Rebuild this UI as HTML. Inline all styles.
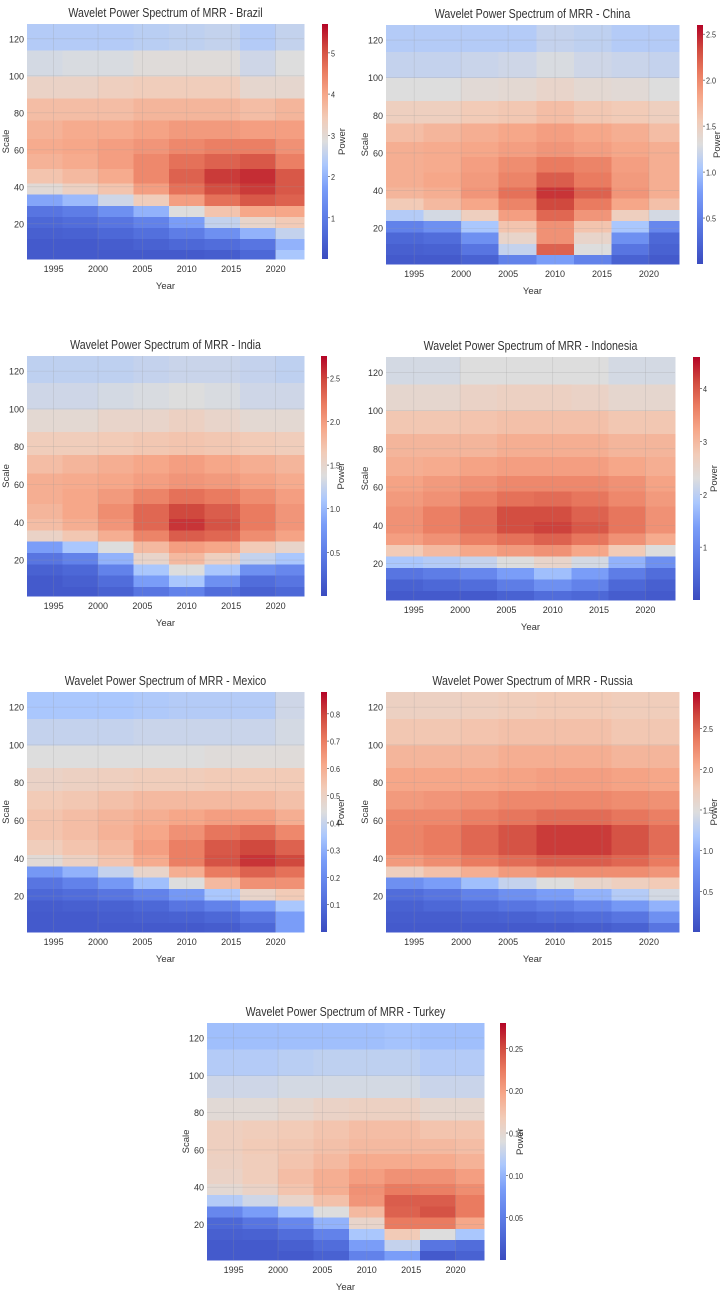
<!DOCTYPE html>
<html><head><meta charset="utf-8">
<style>
body{margin:0;background:#fff;}
svg{display:block;font-family:"Liberation Sans",sans-serif;}
</style></head>
<body>
<svg id="chart" width="726" height="1294" viewBox="0 0 726 1294"></svg>
<script>
// Shared axis data
const yearTicks = [1995, 2000, 2005, 2010, 2015, 2020];
const scaleTicks = [20, 40, 60, 80, 100, 120];
const yearEdges = [1992, 1996, 2000, 2004, 2008, 2012, 2016, 2020, 2023.2];
const scaleEdges = [1, 6, 12, 18, 24, 30, 36, 42, 50, 58, 66, 76, 88, 100, 114, 128];

// Power grids (fraction of colorbar max), rows bottom (scale 1) -> top (scale 128)
const brazilPower = [
[0.05,0.05,0.05,0.05,0.05,0.06,0.1,0.4],
[0.05,0.05,0.06,0.08,0.1,0.12,0.15,0.35],
[0.07,0.08,0.1,0.13,0.18,0.25,0.35,0.45],
[0.1,0.12,0.15,0.2,0.3,0.45,0.55,0.6],
[0.15,0.18,0.25,0.35,0.5,0.62,0.7,0.7],
[0.32,0.37,0.47,0.59,0.72,0.82,0.87,0.85],
[0.52,0.57,0.62,0.72,0.82,0.89,0.92,0.87],
[0.62,0.65,0.69,0.77,0.85,0.92,0.94,0.87],
[0.67,0.69,0.72,0.77,0.82,0.85,0.87,0.79],
[0.69,0.7,0.72,0.74,0.77,0.79,0.79,0.75],
[0.67,0.69,0.69,0.71,0.73,0.73,0.72,0.72],
[0.64,0.64,0.64,0.66,0.66,0.66,0.64,0.66],
[0.56,0.56,0.58,0.59,0.59,0.59,0.54,0.54],
[0.48,0.49,0.49,0.51,0.51,0.51,0.47,0.5],
[0.42,0.42,0.42,0.43,0.44,0.45,0.42,0.45]];
const chinaPower = [
[0.05,0.05,0.08,0.2,0.3,0.2,0.08,0.05],
[0.07,0.08,0.15,0.45,0.85,0.5,0.15,0.08],
[0.1,0.12,0.25,0.55,0.75,0.55,0.25,0.1],
[0.2,0.25,0.4,0.62,0.75,0.62,0.4,0.22],
[0.42,0.48,0.58,0.72,0.84,0.74,0.58,0.48],
[0.6,0.65,0.7,0.78,0.9,0.8,0.7,0.63],
[0.66,0.68,0.74,0.82,0.93,0.85,0.74,0.68],
[0.68,0.7,0.73,0.78,0.86,0.8,0.73,0.68],
[0.68,0.69,0.72,0.76,0.8,0.78,0.72,0.68],
[0.68,0.69,0.7,0.72,0.74,0.72,0.7,0.68],
[0.64,0.66,0.68,0.7,0.72,0.7,0.68,0.64],
[0.58,0.58,0.6,0.61,0.64,0.61,0.6,0.58],
[0.5,0.5,0.52,0.53,0.55,0.53,0.52,0.5],
[0.45,0.45,0.46,0.47,0.49,0.47,0.46,0.45],
[0.42,0.42,0.42,0.42,0.45,0.44,0.42,0.42]];
const indiaPower = [
[0.05,0.05,0.08,0.15,0.2,0.12,0.08,0.1],
[0.05,0.07,0.12,0.3,0.4,0.25,0.12,0.15],
[0.08,0.1,0.2,0.4,0.5,0.4,0.25,0.22],
[0.15,0.2,0.35,0.55,0.65,0.58,0.45,0.4],
[0.3,0.4,0.5,0.65,0.72,0.7,0.6,0.55],
[0.56,0.61,0.68,0.78,0.86,0.84,0.76,0.71],
[0.64,0.68,0.74,0.84,0.93,0.88,0.8,0.74],
[0.66,0.7,0.76,0.84,0.9,0.86,0.8,0.74],
[0.68,0.7,0.73,0.78,0.82,0.8,0.76,0.72],
[0.68,0.69,0.7,0.72,0.74,0.73,0.71,0.69],
[0.64,0.66,0.68,0.7,0.72,0.7,0.68,0.66],
[0.59,0.59,0.6,0.61,0.62,0.61,0.6,0.59],
[0.53,0.53,0.55,0.55,0.57,0.55,0.53,0.53],
[0.47,0.47,0.48,0.49,0.5,0.49,0.47,0.47],
[0.44,0.44,0.44,0.45,0.46,0.46,0.45,0.44]];
const indonesiaPower = [
[0.05,0.05,0.05,0.08,0.12,0.1,0.06,0.05],
[0.08,0.1,0.12,0.18,0.25,0.2,0.1,0.07],
[0.15,0.18,0.22,0.3,0.38,0.3,0.18,0.12],
[0.4,0.42,0.45,0.5,0.55,0.48,0.35,0.25],
[0.6,0.65,0.7,0.73,0.75,0.7,0.6,0.5],
[0.72,0.75,0.79,0.82,0.85,0.81,0.75,0.69],
[0.75,0.79,0.83,0.89,0.91,0.87,0.81,0.75],
[0.75,0.79,0.83,0.89,0.89,0.85,0.81,0.75],
[0.73,0.75,0.79,0.82,0.83,0.81,0.77,0.73],
[0.71,0.73,0.75,0.77,0.77,0.77,0.75,0.71],
[0.68,0.69,0.71,0.72,0.72,0.72,0.7,0.68],
[0.66,0.66,0.66,0.68,0.68,0.68,0.66,0.66],
[0.61,0.61,0.62,0.63,0.63,0.63,0.61,0.61],
[0.54,0.54,0.56,0.57,0.57,0.56,0.54,0.54],
[0.48,0.48,0.5,0.5,0.5,0.5,0.48,0.48]];
const mexicoPower = [
[0.05,0.05,0.05,0.05,0.05,0.06,0.1,0.3],
[0.05,0.05,0.06,0.07,0.08,0.1,0.15,0.3],
[0.06,0.07,0.08,0.1,0.15,0.2,0.3,0.4],
[0.1,0.12,0.15,0.2,0.28,0.4,0.55,0.6],
[0.15,0.2,0.28,0.38,0.5,0.65,0.75,0.75],
[0.28,0.35,0.45,0.55,0.68,0.8,0.85,0.82],
[0.52,0.57,0.62,0.69,0.79,0.88,0.93,0.9],
[0.59,0.62,0.65,0.72,0.79,0.87,0.9,0.85],
[0.62,0.64,0.67,0.7,0.75,0.81,0.83,0.77],
[0.62,0.64,0.66,0.68,0.7,0.72,0.72,0.68],
[0.6,0.61,0.63,0.65,0.65,0.65,0.65,0.63],
[0.56,0.57,0.58,0.59,0.59,0.6,0.6,0.6],
[0.5,0.5,0.5,0.5,0.5,0.51,0.51,0.51],
[0.45,0.45,0.45,0.46,0.46,0.46,0.46,0.48],
[0.4,0.4,0.4,0.41,0.42,0.42,0.42,0.47]];
const russiaPower = [
[0.05,0.05,0.05,0.05,0.05,0.06,0.08,0.15],
[0.06,0.06,0.07,0.08,0.1,0.12,0.15,0.25],
[0.08,0.1,0.12,0.15,0.18,0.22,0.28,0.35],
[0.12,0.15,0.2,0.25,0.3,0.35,0.42,0.48],
[0.25,0.3,0.38,0.45,0.5,0.55,0.58,0.6],
[0.58,0.63,0.68,0.73,0.76,0.76,0.76,0.74],
[0.73,0.76,0.8,0.83,0.86,0.86,0.84,0.8],
[0.78,0.8,0.84,0.88,0.92,0.92,0.88,0.83],
[0.78,0.8,0.84,0.88,0.92,0.92,0.88,0.83],
[0.77,0.77,0.79,0.81,0.83,0.83,0.81,0.79],
[0.73,0.74,0.75,0.77,0.77,0.77,0.76,0.75],
[0.7,0.7,0.7,0.71,0.72,0.72,0.71,0.7],
[0.66,0.66,0.66,0.68,0.68,0.68,0.66,0.66],
[0.61,0.61,0.62,0.63,0.63,0.63,0.61,0.61],
[0.57,0.57,0.58,0.59,0.6,0.6,0.59,0.59]];
const turkeyPower = [
[0.05,0.05,0.05,0.08,0.2,0.3,0.05,0.08],
[0.05,0.05,0.07,0.12,0.3,0.45,0.15,0.12],
[0.07,0.08,0.12,0.2,0.4,0.6,0.5,0.4],
[0.1,0.15,0.22,0.35,0.55,0.8,0.8,0.7],
[0.22,0.3,0.4,0.5,0.65,0.85,0.88,0.8],
[0.42,0.47,0.55,0.63,0.74,0.86,0.86,0.8],
[0.53,0.56,0.62,0.68,0.75,0.8,0.79,0.76],
[0.56,0.59,0.64,0.68,0.72,0.75,0.75,0.72],
[0.57,0.59,0.62,0.65,0.69,0.69,0.69,0.67],
[0.58,0.6,0.61,0.63,0.65,0.65,0.65,0.64],
[0.58,0.59,0.6,0.62,0.64,0.64,0.62,0.62],
[0.52,0.52,0.54,0.56,0.57,0.57,0.54,0.54],
[0.47,0.47,0.48,0.48,0.48,0.48,0.46,0.46],
[0.42,0.42,0.43,0.44,0.44,0.44,0.42,0.42],
[0.38,0.38,0.38,0.38,0.38,0.39,0.38,0.38]];

const countries = ["Brazil","China","India","Indonesia","Mexico","Russia","Turkey"];
const grids = [brazilPower, chinaPower, indiaPower, indonesiaPower, mexicoPower, russiaPower, turkeyPower];
const powerMax = [5.7, 2.6, 2.75, 4.6, 0.88, 2.95, 0.28];
const brazilTicks = ["1","2","3","4","5"];
const chinaTicks = ["0.5","1.0","1.5","2.0","2.5"];
const indiaTicks = ["0.5","1.0","1.5","2.0","2.5"];
const indonesiaTicks = ["1","2","3","4"];
const mexicoTicks = ["0.1","0.2","0.3","0.4","0.5","0.6","0.7","0.8"];
const russiaTicks = ["0.5","1.0","1.5","2.0","2.5"];
const turkeyTicks = ["0.05","0.10","0.15","0.20","0.25"];
const cbTicks = [brazilTicks, chinaTicks, indiaTicks, indonesiaTicks, mexicoTicks, russiaTicks, turkeyTicks];

// layout (pixel boxes)
const boxes = [
 {x0:27,x1:304,y0:24,y1:259,c0:322,c1:328},
 {x0:386,x1:679,y0:25,y1:264,c0:697,c1:703},
 {x0:27,x1:304,y0:356,y1:596,c0:321,c1:327},
 {x0:386,x1:675,y0:357,y1:600,c0:693,c1:700},
 {x0:27,x1:304,y0:692,y1:932,c0:321,c1:327},
 {x0:386,x1:679,y0:692,y1:932,c0:693,c1:700},
 {x0:207,x1:484,y0:1023,y1:1260,c0:500,c1:506}];

const stops=[[0,[59,76,192]],[0.1,[77,104,215]],[0.2,[98,130,234]],[0.3,[122,157,248]],[0.4,[170,199,253]],[0.5,[221,221,221]],[0.6,[242,203,183]],[0.7,[246,167,137]],[0.8,[234,123,96]],[0.9,[208,73,62]],[1,[180,4,38]]];
function cmap(t){t=Math.max(0,Math.min(1,t));
 for(let i=1;i<stops.length;i++){if(t<=stops[i][0]){const a=stops[i-1],b=stops[i];const f=(t-a[0])/(b[0]-a[0]);
 const c=a[1].map((v,k)=>Math.round(v+(b[1][k]-v)*f));return `rgb(${c[0]},${c[1]},${c[2]})`;}}
 return "rgb(180,4,38)";}
const NS="http://www.w3.org/2000/svg";
const svg=document.getElementById("chart");
function mk(tag,attrs,parent){const e=document.createElementNS(NS,tag);for(const k in attrs)e.setAttribute(k,attrs[k]);parent.appendChild(e);return e;}
function txt(s,attrs,parent){const e=mk("text",attrs,parent);e.textContent=s;return e;}

countries.forEach((name,p)=>{
 const b=boxes[p];const grid=grids[p];const vmax=powerMax[p];
 const xs=y=>b.x0+(y-1992)/(2023.2-1992)*(b.x1-b.x0);
 const ys=s=>b.y1-(s-1)/(128-1)*(b.y1-b.y0);
 const g=mk("g",{},svg);
 
 
 const hm=mk("g",{"shape-rendering":"crispEdges"},g);
 
 
 for(let r=0;r<grid.length;r++){for(let c=0;c<grid[r].length;c++){
  const val=grid[r][c]*vmax;
  const xa=xs(yearEdges[c]),xb=xs(yearEdges[c+1]),ya=ys(scaleEdges[r+1]),yb=ys(scaleEdges[r]);
  const rc=mk("rect",{x:xa,y:ya,width:xb-xa+0.5,height:yb-ya+0.5,fill:cmap(val/vmax)},hm);
  
  
 }}
 yearTicks.forEach(t=>{const x=xs(t);
  mk("line",{x1:x,x2:x,y1:b.y0,y2:b.y1,stroke:"#999","stroke-opacity":0.35,"stroke-width":0.6},g);
  const l=txt(String(t),{x:x,y:b.y1+13,"font-size":9,"text-anchor":"middle",fill:"#333"},g);
  
  });
 scaleTicks.forEach(t=>{const y=ys(t);
  mk("line",{x1:b.x0,x2:b.x1,y1:y,y2:y,stroke:"#999","stroke-opacity":0.35,"stroke-width":0.6},g);
  const l=txt(String(t),{x:b.x0-3,y:y+3.5,"font-size":9,"text-anchor":"end",fill:"#333"},g);
  
  });
 const cx=(b.x0+b.x1)/2;
 const ti=txt("Wavelet Power Spectrum of MRR - "+name,{x:cx,y:b.y0-7,"font-size":12.5,"text-anchor":"middle",fill:"#333",transform:`translate(${cx},0) scale(0.85,1) translate(${-cx},0)`},g);
 
 
 const xl=txt("Year",{x:cx,y:b.y1+30,"font-size":9.5,"text-anchor":"middle",fill:"#333"},g);
 
 
 const ym=(b.y0+b.y1)/2;
 const yl=txt("Scale",{x:b.x0-18,y:ym,"font-size":9.5,"text-anchor":"middle",fill:"#333",transform:`rotate(-90 ${b.x0-18} ${ym})`},g);
 
 
 // colorbar
 const cb=mk("g",{},g);
 
 
 const id="grad"+p;
 const defs=mk("defs",{},cb);
 const lg=mk("linearGradient",{id:id,x1:0,y1:1,x2:0,y2:0},defs);
 stops.forEach(s=>mk("stop",{offset:s[0],"stop-color":cmap(s[0])},lg));
 mk("rect",{x:b.c0,y:b.y0,width:b.c1-b.c0,height:b.y1-b.y0,fill:`url(#${id})`},cb);
 cbTicks[p].forEach(t=>{const y=b.y1-parseFloat(t)/vmax*(b.y1-b.y0);
  mk("line",{x1:b.c1,x2:b.c1+2,y1:y,y2:y,stroke:"#333","stroke-width":0.6},cb);
  const l=txt(t,{x:b.c1+3,y:y+3.5,"font-size":8.5,fill:"#333",transform:`translate(${b.c1+3},0) scale(0.85,1) translate(${-(b.c1+3)},0)`},cb);
  
  });
 const px=b.c1+17;
 const pl=txt("Power",{x:px,y:ym,"font-size":9.5,"text-anchor":"middle",fill:"#333",transform:`rotate(-90 ${px} ${ym})`},cb);
 
 
});
</script>
</body></html>
